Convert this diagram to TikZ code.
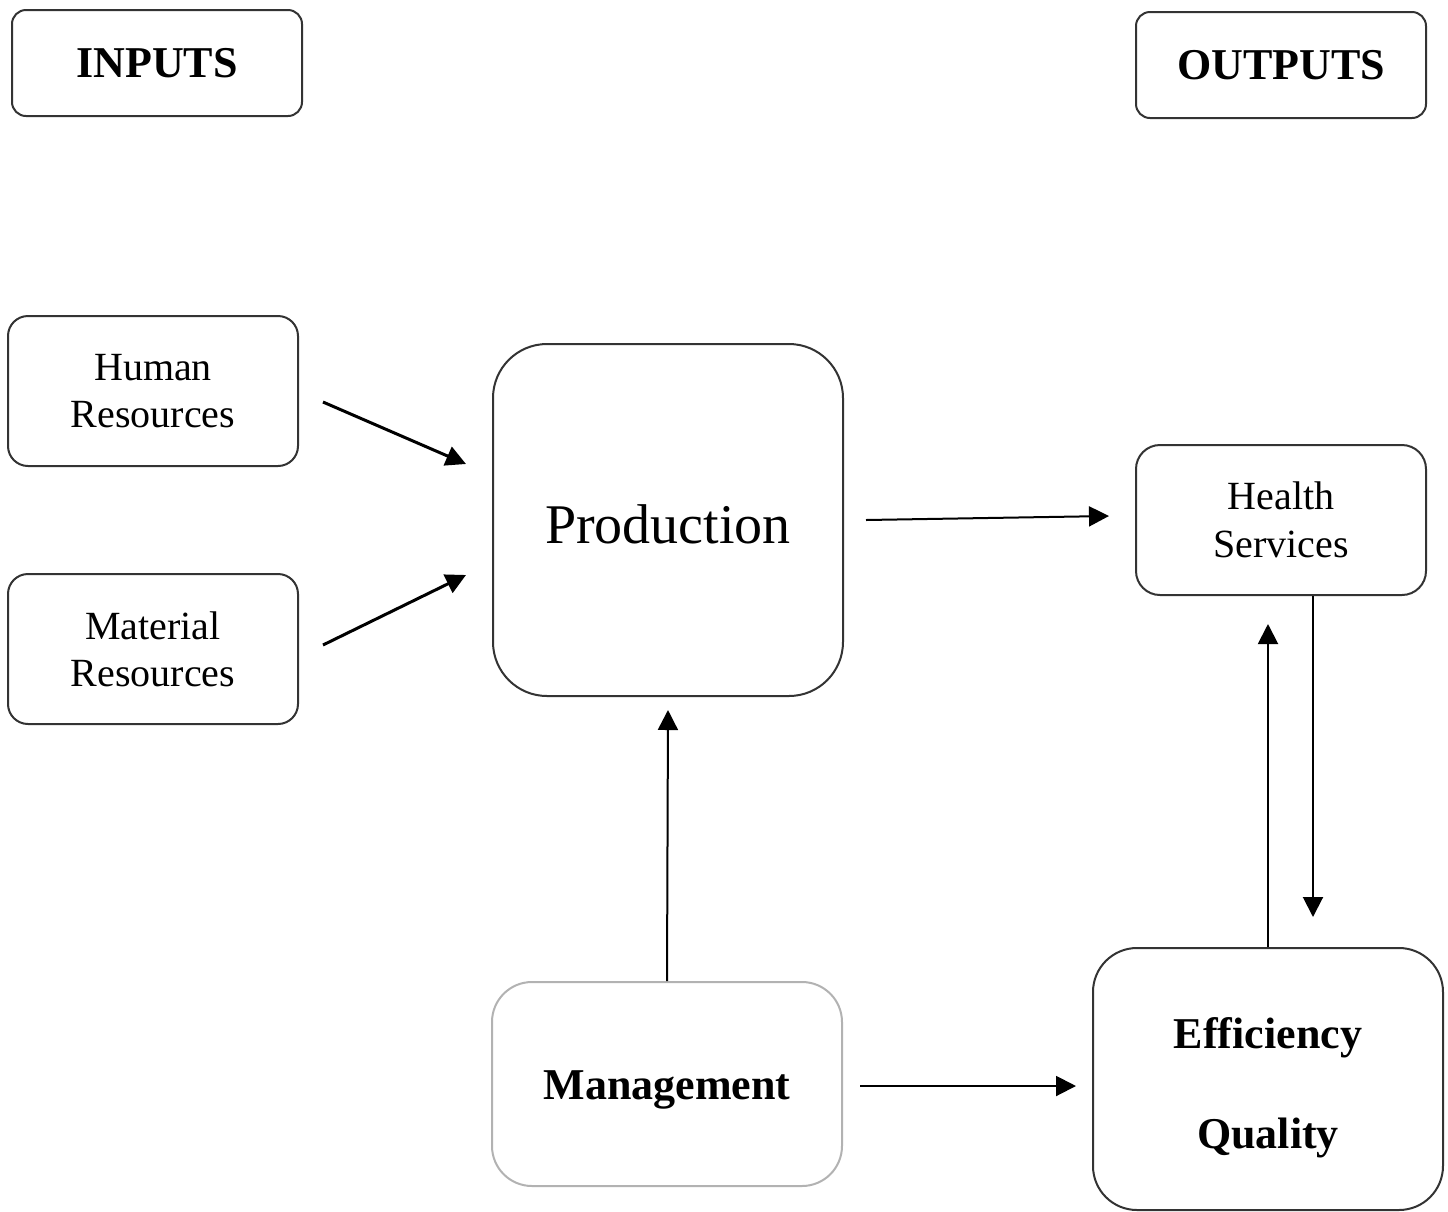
\documentclass[tikz,border=0pt]{standalone}
\usepackage{fontspec}
\setmainfont{Liberation Serif}
\usetikzlibrary{arrows.meta}
\begin{document}
\begin{tikzpicture}[x=0.5pt,y=-0.5pt,box/.style={draw=black!80,line width=1pt,rounded corners=10pt,align=center,inner sep=0pt,font=\fontsize{20}{23.5}\selectfont},hd/.style={box,rounded corners=7pt,minimum width=145pt,minimum height=53pt,font=\fontsize{22}{26}\selectfont\bfseries},res/.style={box,minimum width=145pt,minimum height=75pt},arr/.style={line width=1pt,-{Triangle[length=10pt,width=10pt]}}]
\useasboundingbox (0,0) rectangle (1448,1212);
\node[hd] (inp) at (157,63) {INPUTS};
\node[hd] (outp) at (1281,65) {OUTPUTS};
\node[res] (hum) at (153,391) {Human\\Resources};
\node[res] (mat) at (153,649) {Material\\Resources};
\node[box,rounded corners=27pt,minimum width=175pt,minimum height=176pt,font=\fontsize{28}{32}\selectfont] (prod) at (668,520) {\rule{0pt}{23.5pt}Production};
\node[res,rounded corners=12pt,font=\fontsize{20}{24}\selectfont] (hs) at (1281,520) {Health\\Services};
\node[box,draw=black!30,rounded corners=20pt,minimum width=175pt,minimum height=102pt,font=\fontsize{22}{26}\selectfont\bfseries] (mgt) at (667,1084) {\rule{0pt}{20pt}Management};
\node[box,rounded corners=22pt,minimum width=175pt,minimum height=131pt,font=\fontsize{22}{26}\selectfont\bfseries] (eff) at (1268,1079) {\rule{0pt}{24pt}Efficiency\\[24pt]Quality};
\draw[arr,line width=1.5pt] ([xshift=12pt,yshift=-5.5pt]hum.east) -- ([xshift=-13pt,yshift=28pt]prod.west);
\draw[arr,line width=1.5pt] ([xshift=12pt,yshift=2pt]mat.east) -- ([xshift=-13pt,yshift=-27.5pt]prod.west);
\draw[arr] ([xshift=11pt]prod.east) -- ([xshift=-13pt,yshift=2pt]hs.west);
\draw[arr] (mgt.north) -- ([yshift=-6.5pt]prod.south);
\draw[arr] ([xshift=8.5pt,yshift=-1pt]mgt.east) -- ([xshift=-8pt,yshift=-3.5pt]eff.west);
\draw[arr] (eff.north) -- ([xshift=-6.5pt,yshift=-14pt]hs.south);
\draw[arr] ([xshift=16pt]hs.south) -- ([xshift=22.5pt,yshift=15pt]eff.north);
\end{tikzpicture}
\end{document}
